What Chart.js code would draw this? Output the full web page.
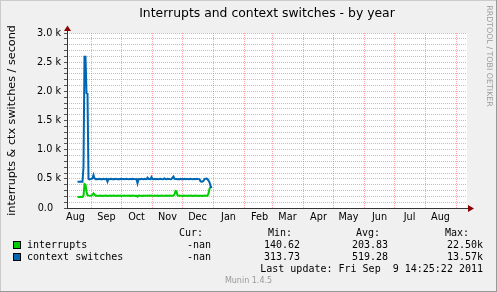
<!DOCTYPE html>
<html><head><meta charset="utf-8">
<script src="https://cdn.jsdelivr.net/npm/chart.js@4/dist/chart.umd.min.js"></script>
<style>html,body{margin:0;padding:0;background:#F0F0F0;overflow:hidden}canvas{display:block}</style>
</head><body>
<canvas id="c" width="497" height="292"></canvas>
<script>
// ---- texts ----
const chartTitle = 'Interrupts and context switches - by year';
const yAxisTitle = 'interrupts & ctx switches / second';
const sideText = 'RRDTOOL / TOBI OETIKER';
const lastUpdate = 'Last update: Fri Sep  9 14:25:22 2011';
const versionText = 'Munin 1.4.5';

// ---- x axis: days counted from 1 Sep 2010 ----
const xMin = -24.5, xMax = 375.5;
const monthStarts = [-31, 0, 30, 61, 91, 122, 153, 181, 212, 242, 273, 303, 334, 365];
const monthLabels = ['Aug','Sep','Oct','Nov','Dec','Jan','Feb','Mar','Apr','May','Jun','Jul','Aug'];

// ---- y axis ----
const yMax = 3000;
const yMinorStep = 100;
const yTickValues = [0, 500, 1000, 1500, 2000, 2500, 3000];
const yTickLabels = ['0.0', '0.5 k', '1.0 k', '1.5 k', '2.0 k', '2.5 k', '3.0 k'];

// ---- series ----
const days = [-14,-13,-12,-11,-10,-9,-8,-7,-6,-5,-4,-3,-2,-1,0,1,2,3,4,5,6,7,8,9,10,11,12,13,14,15,16,17,18,19,20,21,22,23,24,25,26,27,28,29,30,31,32,33,34,35,36,37,38,39,40,41,42,43,44,45,46,47,48,49,50,51,52,53,54,55,56,57,58,59,60,61,62,63,64,65,66,67,68,69,70,71,72,73,74,75,76,77,78,79,80,81,82,83,84,85,86,87,88,89,90,91,92,93,94,95,96,97,98,99,100,101,102,103,104,105,106,107,108,109,110,111,112,113,114,115,116,117,118,119,120];
const contextSwitches = [452,452,450,453,452,451,708,2594,2594,1966,1960,500,490,495,500,505,566,510,495,498,492,496,500,494,497,495,499,493,496,498,451,497,494,499,496,492,498,495,500,496,493,497,495,499,494,498,496,492,497,501,495,493,498,496,494,499,497,495,493,496,425,496,498,494,500,497,495,499,493,497,520,498,496,494,530,497,495,499,494,498,496,492,497,500,495,493,498,508,496,494,499,497,495,493,496,520,540,500,496,498,494,497,495,499,493,497,495,499,494,498,496,492,497,501,495,493,498,496,494,499,497,495,493,460,450,455,465,495,500,505,495,470,440,380,340];
const interrupts = [188,188,190,192,190,190,210,410,400,280,220,215,212,210,212,225,250,228,210,212,208,211,209,213,210,207,211,209,212,210,205,211,209,212,208,210,213,209,211,208,212,210,209,213,207,211,210,212,208,209,211,210,213,208,210,212,209,211,207,210,195,210,212,209,211,208,213,210,209,211,215,210,212,209,214,211,208,212,210,209,213,207,211,210,212,208,209,211,210,213,208,210,212,209,211,212,213,230,290,285,215,210,212,209,211,208,213,210,209,211,207,212,210,209,213,208,211,210,212,209,211,208,210,209,211,208,210,212,209,211,210,250,330,360,380];

// ---- legend ----
const seriesNames = ['interrupts', 'context switches'];
const seriesColors = ['#00CC00', '#0066B3'];
const curValues = ['-nan', '-nan'];
const minValues = ['140.62', '313.73'];
const avgValues = ['203.83', '519.28'];
const maxValues = ['22.50k', '13.57k'];

const SANS = '"DejaVu Sans", sans-serif';
const MONO = '"DejaVu Sans Mono", monospace';

const muninPlugin = {
  id: 'munin',
  beforeDraw(chart) {
    const {ctx, chartArea: a} = chart;
    ctx.save();
    ctx.fillStyle = '#F0F0F0';
    ctx.fillRect(0, 0, chart.width, chart.height);
    ctx.fillStyle = '#FFFFFF';
    ctx.fillRect(a.left, a.top, a.right - a.left, a.bottom - a.top);
    ctx.restore();
  },
  afterDraw(chart) {
    const {ctx, chartArea: a} = chart;
    ctx.save();
    // axes
    ctx.strokeStyle = '#333333';
    ctx.lineWidth = 1;
    ctx.beginPath();
    ctx.moveTo(a.left + 0.5, a.bottom + 0.5);
    ctx.lineTo(a.left + 0.5, a.top - 3);
    ctx.moveTo(a.left, a.bottom + 0.5);
    ctx.lineTo(a.right + 2, a.bottom + 0.5);
    ctx.stroke();
    // arrows
    ctx.fillStyle = '#8B0000';
    ctx.beginPath();
    ctx.moveTo(a.left + 0.5, a.top - 7.5);
    ctx.lineTo(a.left - 3, a.top - 2);
    ctx.lineTo(a.left + 4, a.top - 2);
    ctx.closePath();
    ctx.fill();
    ctx.beginPath();
    ctx.moveTo(a.right + 7, a.bottom + 0.5);
    ctx.lineTo(a.right + 1, a.bottom - 3);
    ctx.lineTo(a.right + 1, a.bottom + 4);
    ctx.closePath();
    ctx.fill();

    // title
    ctx.fillStyle = '#000';
    ctx.font = '12.4px ' + SANS;
    ctx.textAlign = 'center';
    ctx.textBaseline = 'middle';
    ctx.fillText(chartTitle, (a.left + a.right) / 2, 13.5);

    // y axis title
    ctx.save();
    ctx.translate(12, (a.top + a.bottom) / 2);
    ctx.rotate(-Math.PI / 2);
    ctx.font = '11.2px ' + SANS;
    ctx.fillText(yAxisTitle, 0, 0);
    ctx.restore();

    // side text
    ctx.save();
    ctx.translate(489, 56);
    ctx.rotate(Math.PI / 2);
    ctx.fillStyle = '#999999';
    ctx.font = '7.9px ' + SANS;
    ctx.fillText(sideText, 0, 0);
    ctx.restore();

    // legend table
    ctx.font = '10px ' + MONO;
    ctx.textAlign = 'right';
    ctx.fillStyle = '#000';
    const heads = [['Cur:', 203], ['Min:', 292], ['Avg:', 380], ['Max:', 469]];
    heads.forEach(h => ctx.fillText(h[0], h[1], 233));
    const cols = [[curValues, 211], [minValues, 300], [avgValues, 388], [maxValues, 483]];
    seriesNames.forEach((name, i) => {
      const y = 245 + i * 12;
      ctx.fillStyle = seriesColors[i];
      ctx.fillRect(13, y - 4, 8, 8);
      ctx.strokeStyle = '#000';
      ctx.strokeRect(13.5, y - 3.5, 7, 7);
      ctx.fillStyle = '#000';
      ctx.textAlign = 'left';
      ctx.fillText(name, 27, y);
      ctx.textAlign = 'right';
      cols.forEach(c => ctx.fillText(c[0][i], c[1], y));
    });
    ctx.fillText(lastUpdate, 483, 269);
    ctx.textAlign = 'center';
    ctx.fillStyle = '#999999';
    ctx.font = '8px ' + SANS;
    ctx.fillText(versionText, 248.5, 281);

    // frame
    ctx.fillStyle = '#CBCBCB';
    ctx.fillRect(0, 0, chart.width, 1);
    ctx.fillRect(0, 0, 1, chart.height);
    ctx.fillStyle = '#999999';
    ctx.fillRect(0, chart.height - 1, chart.width, 1);
    ctx.fillRect(chart.width - 1, 0, 1, chart.height);
    ctx.restore();
  }
};

const majorGrid = 'rgba(255,60,60,0.45)';
const minorGrid = 'rgba(140,140,140,0.55)';

new Chart(document.getElementById('c'), {
  type: 'line',
  data: {
    datasets: [
      {
        label: seriesNames[0],
        data: days.map((d, i) => ({x: d, y: interrupts[i]})),
        borderColor: seriesColors[0],
        borderWidth: 2,
        pointRadius: 0,
        tension: 0,
        order: 1
      },
      {
        label: seriesNames[1],
        data: days.map((d, i) => ({x: d, y: contextSwitches[i]})),
        borderColor: seriesColors[1],
        borderWidth: 2,
        pointRadius: 0,
        tension: 0,
        order: 0
      }
    ]
  },
  options: {
    responsive: false,
    animation: false,
    devicePixelRatio: 1,
    layout: {padding: {left: 0, top: 33, right: 30, bottom: 0}},
    plugins: {legend: {display: false}, title: {display: false}, tooltip: {enabled: false}},
    scales: {
      x: {
        type: 'linear', min: xMin, max: xMax, weight: 0,
        afterBuildTicks: s => { s.ticks = monthStarts.filter(v => v > xMin && v < xMax).map(v => ({value: v})); },
        afterFit: s => { s.height = 0; },
        ticks: {display: false},
        grid: {color: majorGrid, drawTicks: false, lineWidth: 1},
        border: {display: false, dash: [1, 1]}
      },
      xl: {
        type: 'linear', position: 'bottom', min: xMin, max: xMax, weight: 1,
        afterBuildTicks: s => { s.ticks = monthLabels.map((l, i) => ({value: monthStarts[i] + 15})); },
        afterFit: s => { s.height = 292 - 208; },
        ticks: {
          autoSkip: false, maxRotation: 0, minRotation: 0, padding: 4,
          color: '#000', font: {family: SANS, size: 9.7},
          callback: (v, i) => monthLabels[i]
        },
        grid: {display: false, drawTicks: false},
        border: {display: false}
      },
      y: {
        type: 'linear', min: 0, max: yMax,
        afterBuildTicks: s => {
          const t = [];
          for (let v = 0; v <= yMax; v += yMinorStep) t.push({value: v});
          s.ticks = t;
        },
        afterFit: s => { s.width = 67; },
        ticks: {
          autoSkip: false, padding: 3, color: '#000', font: {family: SANS, size: 9.7},
          callback: v => {
            const k = yTickValues.indexOf(v);
            if (k < 0) return '';
            return yTickLabels[k].indexOf('k') < 0 ? yTickLabels[k] + '\u2002 ' : yTickLabels[k];
          }
        },
        grid: {
          color: c => (c.tick && yTickValues.indexOf(c.tick.value) >= 0) ? majorGrid : minorGrid,
          tickColor: '#555', tickLength: 3, drawTicks: true, lineWidth: 1
        },
        border: {display: false, dash: [1, 1]}
      }
    }
  },
  plugins: [muninPlugin]
});
</script>
</body></html>
